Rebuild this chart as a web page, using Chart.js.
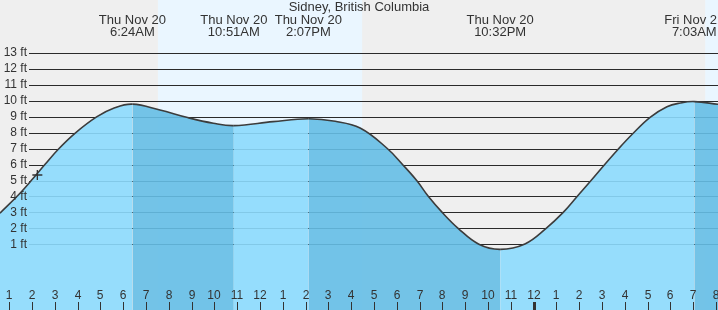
<!DOCTYPE html>
<html>
<head>
<meta charset="utf-8">
<script src="https://cdn.jsdelivr.net/npm/chart.js@4.4.0/dist/chart.umd.min.js"></script>
<style>
    body { margin: 0; background: #fff; }
    #wrap { width: 718px; height: 310px; }
</style>
</head>
<body>
<div id="wrap"><canvas id="tideChart" width="718" height="310"></canvas></div>
<script>
// Tide chart - hours counted from Thu Nov 20 midnight
const tideHours = [0.59, 1.47, 2.05, 2.57, 3.15, 3.88, 4.83, 5.6, 6.4, 7.61, 8.78, 9.95, 10.85, 12.57, 14.117, 15.3, 16.39, 17.57, 18.27, 18.89, 19.37, 19.99, 20.69, 21.6, 22.533, 23.62, 24.55, 25.3, 25.91, 26.54, 27.13, 27.71, 28.37, 29.11, 29.85, 30.43, 31.05, 32.09];
const tideFeet = [2.95, 4.2, 5.14, 6.02, 6.97, 7.97, 9.0, 9.56, 9.8, 9.43, 8.97, 8.6, 8.45, 8.7, 8.88, 8.72, 8.3, 7.03, 5.98, 4.97, 4.03, 3.0, 2.0, 1.0, 0.68, 1.02, 2.0, 3.0, 4.0, 5.03, 6.02, 6.97, 7.97, 8.97, 9.64, 9.87, 9.96, 9.79];

const extremeHours = [6.4, 10.85, 14.117, 22.533, 31.05];
const extremeDays = ['Thu Nov 20', 'Thu Nov 20', 'Thu Nov 20', 'Thu Nov 20', 'Fri Nov 21'];
const extremeTimes = ['6:24AM', '10:51AM', '2:07PM', '10:32PM', '7:03AM'];

const hourTicks = [1, 2, 3, 4, 5, 6, 7, 8, 9, 10, 11, 12, 13, 14, 15, 16, 17, 18, 19, 20, 21, 22, 23, 24, 25, 26, 27, 28, 29, 30, 31, 32];
const hourLabels = ['1', '2', '3', '4', '5', '6', '7', '8', '9', '10', '11', '12', '1', '2', '3', '4', '5', '6', '7', '8', '9', '10', '11', '12', '1', '2', '3', '4', '5', '6', '7', '8'];
const midnightHour = 24;

const feetTicks = [1, 2, 3, 4, 5, 6, 7, 8, 9, 10, 11, 12, 13];

// sun up (light band) and falling tide (darker fill)
const daylight = [[7.52, 16.48], [31.53, 40]];
const ebbRanges = [[6.4, 10.85], [14.117, 22.533], [31.05, 40]];

const nowHour = [2.23];
const nowFeet = [5.35];

const title = 'Sidney, British Columbia';
const FONT = "'Liberation Sans', Arial, sans-serif";
const TEXT = '#333';

function isEbb(h) {
    return ebbRanges.some(([s, e]) => h >= s - 1e-6 && h < e);
}

const decorPlugin = {
    id: 'tideDecor',
    beforeDraw(chart) {
        const { ctx, chartArea: a, scales: { x } } = chart;
        ctx.save();
        ctx.fillStyle = '#efefef';
        ctx.fillRect(a.left, a.top, a.right - a.left, a.bottom - a.top);
        ctx.fillStyle = '#eaf6ff';
        daylight.forEach(([s, e]) => {
            const x0 = Math.max(x.getPixelForValue(s), a.left);
            const x1 = Math.min(x.getPixelForValue(e), a.right);
            ctx.fillRect(x0, a.top, x1 - x0, a.bottom - a.top);
        });
        ctx.restore();
    },
    beforeDatasetsDraw(chart) {
        const { ctx, chartArea: a, scales: { y } } = chart;
        ctx.save();
        ctx.strokeStyle = '#2a2a2a';
        ctx.lineWidth = 1.2;
        feetTicks.forEach(f => {
            const py = Math.round(y.getPixelForValue(f)) + 0.5;
            ctx.beginPath();
            ctx.moveTo(29, py);
            ctx.lineTo(a.right, py);
            ctx.stroke();
        });
        ctx.restore();
    },
    afterDatasetsDraw(chart) {
        const { ctx, chartArea: a, scales: { x, y } } = chart;
        ctx.save();
        ctx.fillStyle = TEXT;

        // feet labels
        ctx.font = '12px ' + FONT;
        ctx.textAlign = 'right';
        ctx.textBaseline = 'middle';
        feetTicks.forEach(f => {
            ctx.fillText(f + ' ft', 27, y.getPixelForValue(f));
        });

        // hour ticks along the bottom
        ctx.textAlign = 'center';
        ctx.strokeStyle = '#333';
        hourTicks.forEach((h, i) => {
            const px = Math.round(x.getPixelForValue(h));
            ctx.fillText(hourLabels[i], px, 296);
            if (h === midnightHour) {
                ctx.fillRect(px - 1, 302, 3, a.bottom - 302);
            } else {
                ctx.lineWidth = 1;
                ctx.beginPath();
                ctx.moveTo(px + 0.5, 302);
                ctx.lineTo(px + 0.5, a.bottom);
                ctx.stroke();
            }
        });

        // high / low labels
        ctx.font = '13px ' + FONT;
        extremeHours.forEach((h, i) => {
            const px = x.getPixelForValue(h);
            ctx.fillText(extremeDays[i], px, 20);
            ctx.fillText(extremeTimes[i], px, 32.5);
        });

        ctx.fillText(title, (a.left + a.right) / 2, 7.5);
        ctx.restore();
    }
};

const chart = new Chart(document.getElementById('tideChart'), {
    type: 'line',
    data: {
        datasets: [
            {
                type: 'scatter',
                data: nowHour.map((h, i) => ({ x: h, y: nowFeet[i] })),
                pointStyle: 'cross',
                pointRadius: 5,
                borderColor: '#333',
                borderWidth: 1.3,
                backgroundColor: '#333'
            },
            {
                data: tideHours.map((h, i) => ({ x: h, y: tideFeet[i] })),
                borderColor: '#3c3c3c',
                borderWidth: 1.6,
                pointRadius: 0,
                tension: 0.4,
                fill: 'start',
                backgroundColor: 'rgba(140, 218, 253, 0.9)',
                segment: {
                    backgroundColor: c => isEbb(c.p0.parsed.x) ? 'rgba(101, 190, 229, 0.9)' : 'rgba(140, 218, 253, 0.9)'
                }
            }
        ]
    },
    options: {
        responsive: false,
        animation: false,
        layout: { padding: 0, autoPadding: false },
        plugins: {
            legend: { display: false },
            tooltip: { enabled: false }
        },
        scales: {
            x: { type: 'linear', min: 0.592, max: 32.09, display: false },
            y: { min: -3.13, max: 16.34, display: false }
        }
    },
    plugins: [decorPlugin]
});
</script>
</body>
</html>
